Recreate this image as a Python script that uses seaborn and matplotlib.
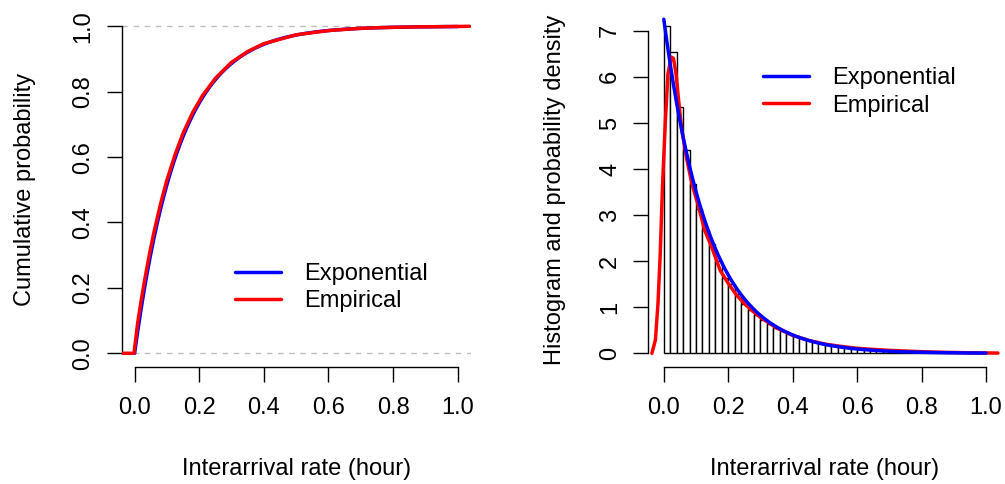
import numpy as np
import pandas as pd
import matplotlib
matplotlib.use("Agg")
import matplotlib.pyplot as plt
from matplotlib.lines import Line2D
import seaborn as sns

# ---------------- data ----------------
rate = 7.25  # fitted exponential rate (per hour)

# histogram (density) bins of width 0.02 from 0 to 1.0
bin_left = [round(0.02 * i, 2) for i in range(50)]
bin_height = [7.10, 6.55, 5.35, 4.41, 3.68, 3.13, 2.67, 2.37, 2.01, 1.63,
              1.50, 1.28, 1.08, 0.93, 0.83, 0.72, 0.63, 0.56, 0.49, 0.43,
              0.38, 0.33, 0.29, 0.26, 0.23, 0.20, 0.18, 0.16, 0.14, 0.12,
              0.11, 0.10, 0.085, 0.075, 0.065, 0.055, 0.05, 0.045, 0.04, 0.035,
              0.03, 0.025, 0.022, 0.02, 0.017, 0.015, 0.013, 0.011, 0.01, 0.009]

# empirical density (red curve, right panel)
emp_dens_x = [-0.037, -0.026, -0.018, -0.011, -0.004, 0.005, 0.013, 0.023, 0.030,
              0.038, 0.046, 0.056, 0.072, 0.087, 0.108, 0.127, 0.15, 0.175, 0.2,
              0.225, 0.25, 0.275, 0.3, 0.35, 0.4, 0.45, 0.5, 0.55, 0.6, 0.65,
              0.7, 0.75, 0.8, 0.85, 0.9, 0.95, 1.0, 1.037]
emp_dens_y = [0.0, 0.29, 1.08, 2.17, 3.62, 5.06, 6.07, 6.43, 6.40,
              6.07, 5.49, 4.84, 4.19, 3.69, 3.18, 2.67, 2.28, 1.80, 1.52,
              1.27, 1.08, 0.92, 0.78, 0.55, 0.39, 0.28, 0.20, 0.15, 0.11, 0.085,
              0.065, 0.05, 0.035, 0.025, 0.018, 0.012, 0.008, 0.006]

# empirical cumulative distribution (red curve, left panel)
emp_cdf_x = [-0.037, -0.002, 0.01, 0.02, 0.03, 0.045, 0.06, 0.08, 0.10, 0.125,
             0.15, 0.18, 0.21, 0.25, 0.30, 0.35, 0.40, 0.50, 0.60, 0.70, 0.80,
             0.90, 1.037]
emp_cdf_y = [0.0, 0.0, 0.097, 0.16, 0.218, 0.299, 0.371, 0.456, 0.53, 0.607,
             0.673, 0.737, 0.788, 0.841, 0.89, 0.923, 0.947, 0.974, 0.987, 0.994,
             0.997, 0.9985, 1.0]

x_ticks = [0.0, 0.2, 0.4, 0.6, 0.8, 1.0]
x_tick_labels = ["0.0", "0.2", "0.4", "0.6", "0.8", "1.0"]
cdf_ticks = [0.0, 0.2, 0.4, 0.6, 0.8, 1.0]
cdf_tick_labels = ["0.0", "0.2", "0.4", "0.6", "0.8", "1.0"]
dens_ticks = [0, 1, 2, 3, 4, 5, 6, 7]
dens_tick_labels = ["0", "1", "2", "3", "4", "5", "6", "7"]

series_names = ["Exponential", "Empirical"]
series_colors = ["#0000FF", "#FF0000"]

x_label = "Interarrival rate (hour)"
y_label_left = "Cumulative probability"
y_label_right = "Histogram and probability density"

# ---------------- styling ----------------
sns.set_style("ticks")
plt.rcParams["font.family"] = ["Liberation Sans", "DejaVu Sans"]
plt.rcParams["text.color"] = "black"
plt.rcParams["axes.labelcolor"] = "black"
plt.rcParams["xtick.color"] = "black"
plt.rcParams["ytick.color"] = "black"
FS = 17
LW = 2.5

fig = plt.figure(figsize=(10.05, 4.84), dpi=100)
ax1 = fig.add_axes([0.1211, 0.2417, 0.3471, 0.7323])
ax2 = fig.add_axes([0.6451, 0.2417, 0.3514, 0.7323])

# theoretical curves from the fitted rate
xg = np.linspace(0.0, 1.0, 400)
exp_cdf = 1.0 - np.exp(-rate * xg)
exp_pdf = rate * np.exp(-rate * xg)

# ---- left panel: CDFs ----
for yy in (0.0, 1.0):
    ax1.axhline(yy, color="#BEBEBE", lw=1.0, ls=(0, (4, 4)), zorder=1)
sns.lineplot(x=xg, y=exp_cdf, ax=ax1, color=series_colors[0], lw=LW, zorder=3)
sns.lineplot(x=emp_cdf_x, y=emp_cdf_y, ax=ax1, color=series_colors[1], lw=LW,
             zorder=4, sort=False)
ax1.set_xlim(-0.04, 1.04)
ax1.set_ylim(-0.042, 1.042)

# ---- right panel: histogram + densities ----
hist_df = pd.DataFrame({"x": [b + 0.01 for b in bin_left], "h": bin_height})
edges = [round(0.02 * i, 2) for i in range(51)]
sns.histplot(data=hist_df, x="x", weights="h", bins=edges, stat="count", ax=ax2,
             color="white", edgecolor="black", linewidth=1.0, alpha=1.0, zorder=2)
sns.lineplot(x=emp_dens_x, y=emp_dens_y, ax=ax2, color=series_colors[1], lw=LW,
             zorder=3, sort=False)
sns.lineplot(x=xg, y=exp_pdf, ax=ax2, color=series_colors[0], lw=LW, zorder=4)
ax2.set_xlim(-0.048, 1.048)
ax2.set_ylim(-0.297, 7.395)

# ---- axes in R style ----
for ax, yt, ytl, ylab, ylx in ((ax1, cdf_ticks, cdf_tick_labels, y_label_left, -0.246),
                               (ax2, dens_ticks, dens_tick_labels, y_label_right, -0.233)):
    ax.spines["top"].set_visible(False)
    ax.spines["right"].set_visible(False)
    ax.spines["left"].set_bounds(yt[0], yt[-1])
    ax.spines["bottom"].set_bounds(x_ticks[0], x_ticks[-1])
    for s in ("left", "bottom"):
        ax.spines[s].set_linewidth(1.0)
        ax.spines[s].set_color("black")
    ax.set_xticks(x_ticks)
    ax.set_xticklabels(x_tick_labels)
    ax.set_yticks(yt)
    ax.set_yticklabels(ytl)
    ax.tick_params(axis="both", length=10.5, width=1.0, color="black",
                   labelsize=FS, labelcolor="black", direction="out")
    ax.tick_params(axis="x", pad=11)
    ax.tick_params(axis="y", pad=9, labelrotation=90)
    for lab in ax.get_yticklabels():
        lab.set_va("center")
    ax.set_xlabel(x_label, fontsize=FS, color="black")
    ax.set_ylabel(ylab, fontsize=FS, color="black")
    ax.xaxis.set_label_coords(0.5, -0.257)
    ax.yaxis.set_label_coords(ylx, 0.5)
    ax.set_facecolor("white")
    ax.grid(False)

handles = [Line2D([0], [0], color=c, lw=LW) for c in series_colors]
for ax, anchor in ((ax1, (0.325, 0.224)), (ax2, (0.325, 0.776))):
    leg = ax.legend(handles, series_names, loc="center left", bbox_to_anchor=anchor,
                    frameon=False, fontsize=FS, handlelength=1.95, handletextpad=0.97,
                    labelspacing=0.22, borderpad=0, borderaxespad=0)
    for t in leg.get_texts():
        t.set_color("black")

fig.patch.set_facecolor("white")
fig.savefig("out.png", dpi=100, facecolor="white")
